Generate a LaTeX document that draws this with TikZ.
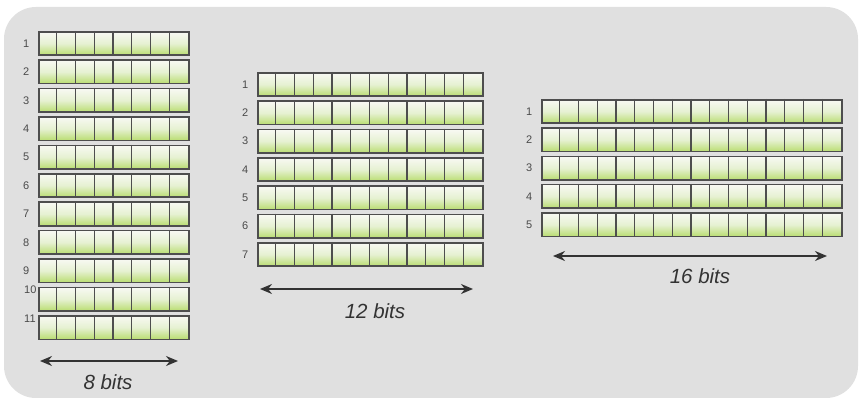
\documentclass[tikz,border=0pt]{standalone}
\usepackage{fontspec}
\setmainfont{Liberation Sans}
\usetikzlibrary{arrows.meta}
\definecolor{bgc}{HTML}{E0E0E0}
\definecolor{celltop}{HTML}{F8F9F3}
\definecolor{cellmid}{HTML}{E6F1D2}
\definecolor{cellbot}{HTML}{B9DD70}
\definecolor{cellline}{HTML}{4E4E4E}
\definecolor{labc}{HTML}{4A4A4A}
\definecolor{arrc}{HTML}{333333}
\tikzset{
  bitrow/.style={draw=cellline, line width=1.6pt, minimum height=23.5pt, inner sep=0pt,
    anchor=north west, top color=celltop, bottom color=cellbot, middle color=cellmid},
  divider/.style={draw=cellline, line width=1.1pt},
  rowlabel/.style={text=labc, font=\fontsize{11}{12}\selectfont, inner sep=0pt, anchor=west},
  widtharrow/.style={draw=arrc, line width=1.5pt, {Stealth[length=12pt,width=10pt]}-{Stealth[length=12pt,width=10pt]}},
  bitslabel/.style={text=arrc, font=\fontsize{20.5}{22}\selectfont\itshape, inner sep=0pt}
}
\begin{document}
\begin{tikzpicture}[x=1pt,y=-1pt]
\useasboundingbox (0,0) rectangle (859,398);
\fill[white] (0,0) rectangle (859,398);
\fill[bgc, rounded corners=32pt] (4,7) rectangle (858,398);

% group 1: 8 bits, 11 rows
\foreach \i in {1,...,11}{
  \node[bitrow, minimum width=150pt] (a\i) at (38,{31+(\i-1)*28.4}) {};
  \foreach \k in {1,...,7}{
    \draw[divider] ([xshift=\k*18.75pt]a\i.north west) -- ([xshift=\k*18.75pt]a\i.south west);
  }
}
\foreach \i in {1,...,9}{
  \node[rowlabel] (la\i) at ([xshift=-15pt]a\i.west) {\i};
}
\node[rowlabel] (la10) at ([xshift=-14pt,yshift=9pt]a10.west) {10};
\node[rowlabel] (la11) at ([xshift=-14pt,yshift=9pt]a11.west) {11};
\coordinate (a8l) at (40,361);
\coordinate (a8r) at (178,361);
\draw[widtharrow] (a8l) -- (a8r);
\node[bitslabel] (t8) at (108,382) {8 bits};

% group 2: 12 bits, 7 rows
\foreach \i in {1,...,7}{
  \node[bitrow, minimum width=225pt] (b\i) at (257,{72+(\i-1)*28.33}) {};
  \foreach \k in {1,...,11}{
    \draw[divider] ([xshift=\k*18.75pt]b\i.north west) -- ([xshift=\k*18.75pt]b\i.south west);
  }
  \node[rowlabel] (lb\i) at ([xshift=-15pt]b\i.west) {\i};
}
\coordinate (a12l) at (260,289);
\coordinate (a12r) at (473,289);
\draw[widtharrow] (a12l) -- (a12r);
\node[bitslabel] (t12) at (375,311) {12 bits};

% group 3: 16 bits, 5 rows
\foreach \i in {1,...,5}{
  \node[bitrow, minimum width=300pt] (c\i) at (541,{99+(\i-1)*28.3}) {};
  \foreach \k in {1,...,15}{
    \draw[divider] ([xshift=\k*18.75pt]c\i.north west) -- ([xshift=\k*18.75pt]c\i.south west);
  }
  \node[rowlabel] (lc\i) at ([xshift=-15pt]c\i.west) {\i};
}
\coordinate (a16l) at (553,256);
\coordinate (a16r) at (827,256);
\draw[widtharrow] (a16l) -- (a16r);
\node[bitslabel] (t16) at (700,276) {16 bits};
\end{tikzpicture}
\end{document}
